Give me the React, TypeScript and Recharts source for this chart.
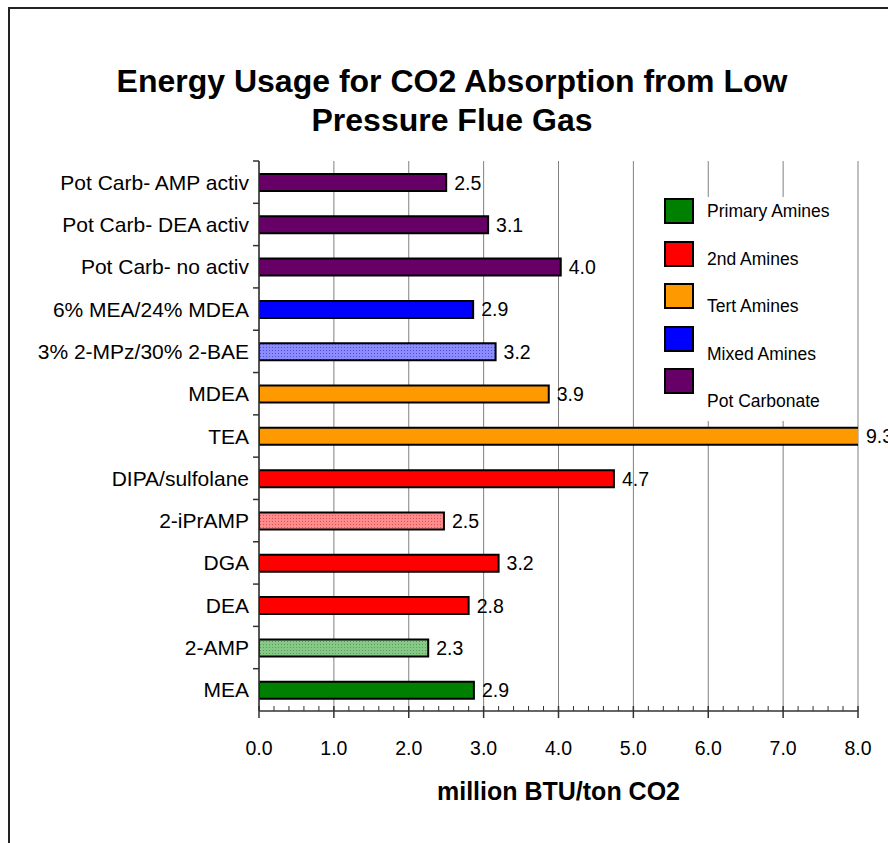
import React from 'react';
import { BarChart, Bar, XAxis, YAxis, CartesianGrid, Cell, LabelList, Legend } from 'recharts';

// bottom to top, as in the source sheet
const solvents = [
  'MEA',
  '2-AMP',
  'DEA',
  'DGA',
  '2-iPrAMP',
  'DIPA/sulfolane',
  'TEA',
  'MDEA',
  '3% 2-MPz/30% 2-BAE',
  '6% MEA/24% MDEA',
  'Pot Carb- no activ',
  'Pot Carb- DEA activ',
  'Pot Carb- AMP activ',
];
const energy = [2.87, 2.26, 2.8, 3.2, 2.47, 4.74, 9.3, 3.87, 3.16, 2.86, 4.03, 3.06, 2.5];
const barFills = [
  '#008000',
  'url(#dotGreen)',
  '#ff0000',
  '#ff0000',
  'url(#dotRed)',
  '#ff0000',
  '#ff9900',
  '#ff9900',
  'url(#dotBlue)',
  '#0000ff',
  '#660066',
  '#660066',
  '#660066',
];
const legendNames = ['Primary Amines', '2nd Amines', 'Tert Amines', 'Mixed Amines', 'Pot Carbonate'];
const legendColors = ['#008000', '#ff0000', '#ff9900', '#0000ff', '#660066'];
const xTicks = [0, 1, 2, 3, 4, 5, 6, 7, 8];

const data = solvents.map((name, i) => ({ name, energy: energy[i], fill: barFills[i] }));

const FONT = '"Liberation Sans", Arial, sans-serif';
const CHART_W = 888;
const CHART_H = 835;
const MARGIN = { top: 153, right: 38, bottom: 32, left: 0 };
const Y_AXIS_W = 251;
const X_AXIS_H = 100;
const PLOT_W = CHART_W - MARGIN.right - MARGIN.left - Y_AXIS_W;
const PLOT_H = CHART_H - MARGIN.top - MARGIN.bottom - X_AXIS_H;
const PLOT_RIGHT = CHART_W - MARGIN.right;
const BAND = PLOT_H / solvents.length;
const UNIT = PLOT_W / xTicks[xTicks.length - 1];

const YTick = (props: any) => {
  const { x, y, payload } = props;
  return (
    <g>
      <line x1={x - 6} x2={x} y1={y - BAND / 2} y2={y - BAND / 2} stroke="#333" strokeWidth={1.5} />
      <text x={x - 10} y={y} textAnchor="end" dominantBaseline="central" fontSize={21} fontFamily={FONT} fill="#000">
        {payload.value}
      </text>
    </g>
  );
};

const XTick = (props: any) => {
  const { x, y, payload } = props;
  const v = payload.value;
  const minors = v < xTicks[xTicks.length - 1] ? [1, 2, 3, 4] : [];
  return (
    <g>
      <line x1={x} x2={x} y1={y - 5} y2={y + 7} stroke="#333" strokeWidth={1.5} />
      {minors.map(k => (
        <line key={k} x1={x + (k * UNIT) / 5} x2={x + (k * UNIT) / 5} y1={y - 5} y2={y} stroke="#333" strokeWidth={1} />
      ))}
      <text x={x} y={y + 37} textAnchor="middle" dominantBaseline="central" fontSize={19.5} fontFamily={FONT} fill="#000">
        {v.toFixed(1)}
      </text>
    </g>
  );
};

const ValueLabel = (props: any) => {
  const vb = props.viewBox || props;
  const end = Math.min(vb.x + vb.width, PLOT_RIGHT);
  return (
    <text x={end + 8} y={vb.y + vb.height / 2} dominantBaseline="central" fontSize={19.5} fontFamily={FONT} fill="#000">
      {Number(props.value).toFixed(1)}
    </text>
  );
};

const LegendBox = () => (
  <div style={{ position: 'relative', width: 205, height: 224, background: '#fff', fontFamily: FONT }}>
    {legendNames.map((name, i) => (
      <React.Fragment key={name}>
        <div
          style={{
            position: 'absolute',
            left: 14,
            top: 1 + i * 42.5,
            width: 26,
            height: 22,
            background: legendColors[i],
            border: '2px solid #000',
          }}
        />
        <div
          style={{
            position: 'absolute',
            left: 57,
            top: 14 + i * 47.5 - 10,
            lineHeight: '20px',
            fontSize: 17.5,
            whiteSpace: 'nowrap',
            color: '#000',
          }}
        >
          {name}
        </div>
      </React.Fragment>
    ))}
  </div>
);

export default function App() {
  return (
    <div style={{ position: 'fixed', left: 0, top: 0, width: 888, height: 843, overflow: 'hidden', background: '#fff' }}>
      <svg width={0} height={0} style={{ position: 'absolute' }}>
        <defs>
          <pattern id="dotGreen" width={3} height={3} patternUnits="userSpaceOnUse">
            <rect width={3} height={3} fill="#86c886" />
            <rect width={1} height={1} fill="#5c9c5c" />
          </pattern>
          <pattern id="dotRed" width={3} height={3} patternUnits="userSpaceOnUse">
            <rect width={3} height={3} fill="#ff8c8c" />
            <rect width={1} height={1} fill="#e05050" />
          </pattern>
          <pattern id="dotBlue" width={3} height={3} patternUnits="userSpaceOnUse">
            <rect width={3} height={3} fill="#8c8cff" />
            <rect width={1} height={1} fill="#5050e0" />
          </pattern>
        </defs>
      </svg>
      <div
        style={{
          position: 'absolute',
          left: 8,
          top: 7,
          width: CHART_W,
          height: CHART_H + 20,
          border: '2px solid #222',
          boxSizing: 'border-box',
        }}
      />
      <div
        style={{
          position: 'absolute',
          left: 8,
          top: 62,
          width: CHART_W,
          textAlign: 'center',
          fontFamily: FONT,
          fontWeight: 'bold',
          fontSize: 32,
          lineHeight: '39px',
          color: '#000',
        }}
      >
        Energy Usage for CO2 Absorption from Low
        <br />
        Pressure Flue Gas
      </div>
      <div style={{ position: 'absolute', left: 8, top: 8 }}>
        <BarChart width={CHART_W} height={CHART_H} data={data} layout="vertical" margin={MARGIN}>
          <CartesianGrid horizontal={false} stroke="#808080" strokeWidth={1} />
          <XAxis
            type="number"
            domain={[0, 8]}
            allowDataOverflow
            ticks={xTicks}
            interval={0}
            height={X_AXIS_H}
            tickSize={0}
            tickMargin={0}
            tickLine={false}
            axisLine={{ stroke: '#333', strokeWidth: 1.5 }}
            tick={<XTick />}
            label={{
              value: 'million BTU/ton CO2',
              position: 'insideBottom',
              offset: 11,
              style: { fontFamily: FONT, fontWeight: 'bold', fontSize: 25, fill: '#000' },
            }}
          />
          <YAxis
            type="category"
            dataKey="name"
            reversed
            width={Y_AXIS_W}
            interval={0}
            tickSize={0}
            tickMargin={0}
            tickLine={false}
            axisLine={{ stroke: '#333', strokeWidth: 1.5 }}
            tick={<YTick />}
          />
          <Legend
            content={<LegendBox />}
            layout="horizontal"
            verticalAlign="middle"
            align="center"
            wrapperStyle={{ left: 642, top: 189, width: 205, height: 224 }}
          />
          <Bar dataKey="energy" barSize={17} stroke="#000" strokeWidth={2} isAnimationActive={false}>
            {data.map(d => (
              <Cell key={d.name} fill={d.fill} />
            ))}
            <LabelList dataKey="energy" content={<ValueLabel />} />
          </Bar>
        </BarChart>
      </div>
    </div>
  );
}
